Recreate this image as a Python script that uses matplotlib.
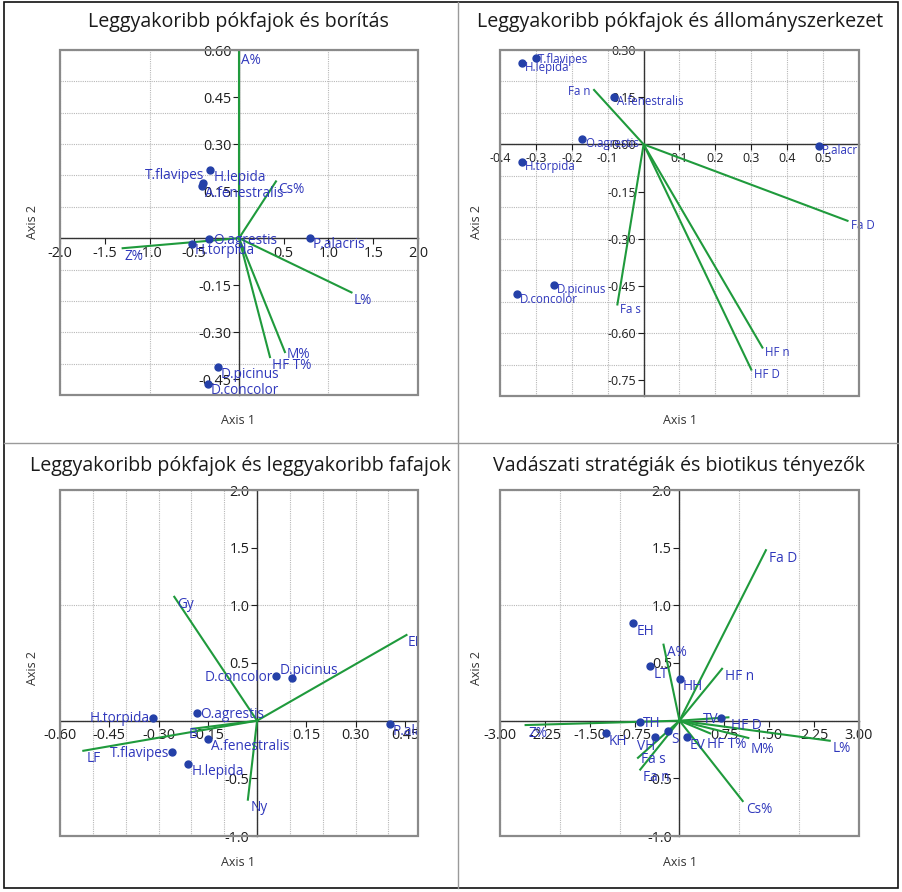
import numpy as np
import matplotlib
matplotlib.use("Agg")
import matplotlib.pyplot as plt
from matplotlib.patches import Rectangle
from matplotlib.lines import Line2D

plt.rcParams["font.family"] = ["Open Sans", "DejaVu Sans"]

DOT = "#2440a8"
TXT = "#3038bc"
LINE = "#1f9a3c"

# --- panel 1: spiders vs. cover
p1_spiders = ["T.flavipes", "A.fenestralis", "H.lepida", "O.agrestis", "H.torpida",
              "P.alacris", "D.picinus", "D.concolor"]
p1_ax1 = [-0.405, -0.416, -0.32, -0.338, -0.524, 0.792, -0.238, -0.346]
p1_ax2 = [0.176, 0.165, 0.217, -0.003, -0.018, 0.002, -0.411, -0.464]
p1_vars = ["A%", "Cs%", "Z%", "L%", "M%", "HF T%"]
p1_load1 = [0.0, 0.413, -1.30, 1.257, 0.513, 0.346]
p1_load2 = [0.593, 0.181, -0.032, -0.173, -0.363, -0.379]

# --- panel 2: spiders vs. stand structure
p2_spiders = ["T.flavipes", "H.lepida", "A.fenestralis", "O.agrestis", "H.torpida",
              "P.alacris", "D.picinus", "D.concolor"]
p2_ax1 = [-0.301, -0.340, -0.083, -0.171, -0.340, 0.489, -0.249, -0.352]
p2_ax2 = [0.274, 0.259, 0.151, 0.018, -0.055, -0.005, -0.447, -0.476]
p2_vars = ["Fa n", "Fa D", "Fa s", "HF n", "HF D"]
p2_load1 = [-0.138, 0.568, -0.073, 0.331, 0.300]
p2_load2 = [0.173, -0.243, -0.509, -0.646, -0.716]

# --- panel 3: spiders vs. tree species
p3_spiders = ["D.concolor", "D.picinus", "O.agrestis", "H.torpida", "P.alacris",
              "A.fenestralis", "T.flavipes", "H.lepida"]
p3_ax1 = [0.058, 0.105, -0.183, -0.317, 0.405, -0.149, -0.258, -0.209]
p3_ax2 = [0.383, 0.372, 0.070, 0.026, -0.029, -0.163, -0.273, -0.380]
p3_vars = ["Gy", "EL", "LF", "Ny", "B"]
p3_load1 = [-0.252, 0.455, -0.529, -0.028, -0.195]
p3_load2 = [1.074, 0.743, -0.261, -0.685, -0.07]

# --- panel 4: hunting strategies vs. biotic factors
p4_groups = ["EH", "LT", "HH", "TH", "TV", "KH", "VH", "S", "EV"]
p4_ax1 = [-0.772, -0.489, 0.005, -0.667, 0.689, -1.228, -0.406, -0.194, 0.122]
p4_ax2 = [0.845, 0.470, 0.363, -0.012, 0.020, -0.110, -0.139, -0.093, -0.145]
p4_vars = ["Fa D", "HF n", "A%", "Z%", "L%", "M%", "HF T%", "HF D", "Cs%", "Fa s", "Fa n"]
p4_load1 = [1.444, 0.711, -0.267, -2.572, 2.511, 1.15, 0.511, 0.817, 1.056, -0.694, -0.656]
p4_load2 = [1.478, 0.450, 0.659, -0.038, -0.174, -0.15, -0.110, 0.029, -0.697, -0.322, -0.424]

titles = ["Leggyakoribb pókfajok és borítás",
          "Leggyakoribb pókfajok és állományszerkezet",
          "Leggyakoribb pókfajok és leggyakoribb fafajok",
          "Vadászati stratégiák és biotikus tényezők"]


def panel(ax, names, xs, ys, vnames, vx, vy, xlim, ylim, xticks, yticks, xfmt, yfmt,
          xgrid, ygrid, fs, pt_off, v_off, special, noclip=()):
    ax.set_xlim(*xlim)
    ax.set_ylim(*ylim)
    for g in np.arange(xlim[0], xlim[1] + 1e-9, xgrid):
        ax.axvline(g, color="#b8b8b8", lw=0.8, ls=(0, (1, 1)), zorder=0)
    for g in np.arange(ylim[0], ylim[1] + 1e-9, ygrid):
        ax.axhline(g, color="#b8b8b8", lw=0.8, ls=(0, (1, 1)), zorder=0)
    for s in ["top", "right"]:
        ax.spines[s].set_visible(False)
    for s in ["left", "bottom"]:
        ax.spines[s].set_position("zero")
        ax.spines[s].set_color("#333333")
        ax.spines[s].set_linewidth(1.0)
        ax.spines[s].set_zorder(1)
    ax.add_patch(Rectangle((0, 0), 1, 1, transform=ax.transAxes, fill=False,
                           ec="#8a8a8a", lw=1.6, clip_on=False, zorder=10))
    ax.set_xticks(xticks)
    ax.set_xticklabels([xfmt.format(t) for t in xticks])
    ax.set_yticks(yticks)
    ax.set_yticklabels([yfmt.format(t) for t in yticks])
    ax.tick_params(labelsize=fs + 0.6, colors="#1e1e1e", length=4, width=0.8,
                   direction="out", pad=1.5)

    for n, x, y in zip(vnames, vx, vy):
        ax.plot([0, x], [0, y], color=LINE, lw=1.5, zorder=2)
        dx, dy, ha = special.get(n, (v_off[0], v_off[1], "left"))
        ax.annotate(n, (x, y), xytext=(dx, dy), textcoords="offset pixels",
                    ha=ha, va="center", color=TXT, fontsize=fs,
                    clip_on=n not in noclip, annotation_clip=False, zorder=4)
    ax.plot(xs, ys, "o", color=DOT, ms=5, zorder=3)
    for n, x, y in zip(names, xs, ys):
        dx, dy, ha = special.get(n, (pt_off[0], pt_off[1], "left"))
        ax.annotate(n, (x, y), xytext=(dx, dy), textcoords="offset pixels",
                    ha=ha, va="center", color=TXT, fontsize=fs, clip_on=True, zorder=4)


fig = plt.figure(figsize=(9.03, 8.92), dpi=100)
W, H = 903, 892


def box(l, t, r, b):
    return [l / W, 1 - b / H, (r - l) / W, (b - t) / H]


ax1 = fig.add_axes(box(60, 50, 418, 395))
panel(ax1, p1_spiders, p1_ax1, p1_ax2, p1_vars, p1_load1, p1_load2,
      (-2, 2), (-0.5, 0.6),
      [-2, -1.5, -1, -0.5, 0.5, 1, 1.5, 2], [-0.45, -0.3, -0.15, 0.15, 0.3, 0.45, 0.6],
      "{:.1f}", "{:.2f}", 1.0, 0.1, 9.8, (3, -7), (2, -8),
      {"T.flavipes": (1, 7, "right"), "O.agrestis": (4, -1, "left"), "M%": (2, -2, "left")})

ax2 = fig.add_axes(box(500, 50, 859, 396))
panel(ax2, p2_spiders, p2_ax1, p2_ax2, p2_vars, p2_load1, p2_load2,
      (-0.4, 0.6), (-0.8, 0.3),
      [-0.4, -0.3, -0.2, -0.1, 0.1, 0.2, 0.3, 0.4, 0.5],
      [-0.75, -0.6, -0.45, -0.3, -0.15, 0.0, 0.15, 0.3],
      "{:.1f}", "{:.2f}", 0.1, 0.1, 8.3, (3, -5), (3, -5),
      {"T.flavipes": (2, -1, "left"), "Fa n": (-4, -2, "right")}, noclip=("Fa D",))

ax3 = fig.add_axes(box(60, 490, 418, 836))
panel(ax3, p3_spiders, p3_ax1, p3_ax2, p3_vars, p3_load1, p3_load2,
      (-0.6, 0.49), (-1, 2),
      [-0.6, -0.45, -0.3, -0.15, 0.15, 0.3, 0.45], [-1, -0.5, 0.5, 1, 1.5, 2],
      "{:.2f}", "{:.1f}", 0.1, 1.0, 9.8, (3, -7), (3, -8),
      {"D.concolor": (-3, -1, "right"), "D.picinus": (-12, 7, "left"),
       "O.agrestis": (3, -2, "left"), "H.torpida": (-3, -1, "right"),
       "T.flavipes": (-3, -1, "right"), "B": (-4, -6, "left"), "EL": (1, -8, "left")})

ax4 = fig.add_axes(box(500, 490, 859, 836))
panel(ax4, p4_groups, p4_ax1, p4_ax2, p4_vars, p4_load1, p4_load2,
      (-3, 3), (-1, 2),
      [-3, -2.25, -1.5, -0.75, 0.75, 1.5, 2.25, 3], [-1, -0.5, 0.5, 1, 1.5, 2],
      "{:.2f}", "{:.1f}", 1.0, 1.0, 9.8, (3, -8), (3, -8),
      {"TH": (3, -1, "left"), "TV": (-2, -1, "right"), "VH": (0, -10, "right"),
       "M%": (2, -12, "left"), "HF T%": (-3, -11, "left"), "Fa s": (3, -2, "left")})

# titles and axis names
for (cx, cy), t in zip([(238, 22), (680, 22), (240, 466), (679, 466)], titles):
    fig.text(cx / W, 1 - cy / H, t, ha="center", va="center", fontsize=14.1, color="#1a1a1a")
for cx, cy in [(238, 421), (680, 421), (238, 862), (680, 862)]:
    fig.text(cx / W, 1 - cy / H, "Axis 1", ha="center", va="center", fontsize=9, color="#333333")
for cx, cy in [(33, 222), (476, 222), (33, 668), (476, 668)]:
    fig.text(cx / W, 1 - cy / H, "Axis 2", ha="center", va="center", rotation=90,
             fontsize=9, color="#333333")

# frame and separators
fig.add_artist(Rectangle((4 / W, 1 - 888 / H), 894 / W, 886 / H, transform=fig.transFigure,
                         fill=False, ec="#111111", lw=1.2))
fig.add_artist(Line2D([458 / W, 458 / W], [1 - 888 / H, 1 - 2 / H], transform=fig.transFigure,
                      color="#9a9a9a", lw=1.0))
fig.add_artist(Line2D([4 / W, 898 / W], [1 - 443 / H, 1 - 443 / H], transform=fig.transFigure,
                      color="#9a9a9a", lw=1.0))

fig.savefig("out.png", dpi=100)
